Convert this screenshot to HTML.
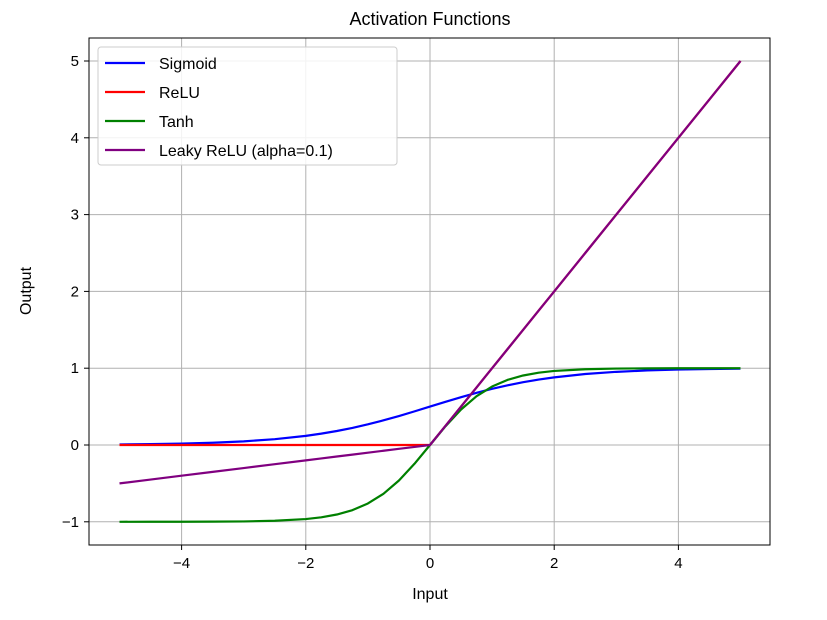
<!DOCTYPE html>
<html><head><meta charset="utf-8"><style>
html,body{margin:0;padding:0;background:#fff;}
svg{display:block;font-family:"Liberation Sans","DejaVu Sans",sans-serif;}
</style></head><body>
<svg id="chart" width="827" height="620">
<text x="430" y="25" font-size="18" text-anchor="middle" fill="#000">Activation Functions</text>
<g id="grid"></g>
<g id="series"></g>
<rect x="89" y="38" width="681" height="507" fill="none" stroke="#000" stroke-width="1"/>
<g id="ticks"></g>
<text x="430" y="599" font-size="16" text-anchor="middle">Input</text>
<text x="31" y="291" font-size="16" text-anchor="middle" transform="rotate(-90 31 291)">Output</text>
<g id="legend"></g>
</svg>
<script>
const xs=[-5,-4.5,-4,-3.5,-3,-2.5,-2,-1.75,-1.5,-1.25,-1,-0.75,-0.5,-0.25,0,0.25,0.5,0.75,1,1.25,1.5,1.75,2,2.5,3,3.5,4,4.5,5];
const sigmoidVals=[.0067,.0110,.0180,.0293,.0474,.0759,.1192,.1480,.1824,.2227,.2689,.3208,.3775,.4378,.5,.5622,.6225,.6792,.7311,.7773,.8176,.8520,.8808,.9241,.9526,.9707,.9820,.9890,.9933];
const reluVals=[0,0,0,0,0,0,0,0,0,0,0,0,0,0,0,.25,.5,.75,1,1.25,1.5,1.75,2,2.5,3,3.5,4,4.5,5];
const tanhVals=[-.9999,-.9998,-.9993,-.9982,-.9951,-.9866,-.9640,-.9414,-.9051,-.8483,-.7616,-.6351,-.4621,-.2449,0,.2449,.4621,.6351,.7616,.8483,.9051,.9414,.9640,.9866,.9951,.9982,.9993,.9998,.9999];
const leakyVals=[-.5,-.45,-.4,-.35,-.3,-.25,-.2,-.175,-.15,-.125,-.1,-.075,-.05,-.025,0,.25,.5,.75,1,1.25,1.5,1.75,2,2.5,3,3.5,4,4.5,5];
const xTicks=[-4,-2,0,2,4];
const yTicks=[-1,0,1,2,3,4,5];
const seriesNames=["Sigmoid","ReLU","Tanh","Leaky ReLU (alpha=0.1)"];
const seriesColors=["#0000ff","#ff0000","#008000","#800080"];
const seriesData=[sigmoidVals,reluVals,tanhVals,leakyVals];

const X=v=>430+v*62.1;
const Y=v=>445-v*76.8;
const NS="http://www.w3.org/2000/svg";
function mk(tag,attrs,parent){const e=document.createElementNS(NS,tag);for(const k in attrs)e.setAttribute(k,attrs[k]);parent.appendChild(e);return e;}
const grid=document.getElementById('grid'),ticks=document.getElementById('ticks'),ser=document.getElementById('series'),leg=document.getElementById('legend');
xTicks.forEach(t=>{
  const g=mk('line',{x1:X(t),x2:X(t),y1:38,y2:545,stroke:'#b0b0b0','stroke-width':1},grid);
  
  
  const tk=mk('line',{x1:X(t),x2:X(t),y1:545,y2:550,stroke:'#000'},ticks);
  
  
  const tx=mk('text',{x:X(t),y:568,'font-size':15,'text-anchor':'middle'},ticks);
  tx.textContent=(t<0?'\u2212'+(-t):t);
  
  
});
yTicks.forEach(t=>{
  const g=mk('line',{x1:89,x2:770,y1:Y(t),y2:Y(t),stroke:'#b0b0b0','stroke-width':1},grid);
  
  
  const tk=mk('line',{x1:84,x2:89,y1:Y(t),y2:Y(t),stroke:'#000'},ticks);
  
  
  const tx=mk('text',{x:79,y:Y(t)+5,'font-size':15,'text-anchor':'end'},ticks);
  tx.textContent=(t<0?'\u2212'+(-t):t);
  
  
});
seriesData.forEach((vals,i)=>{
  const pts=xs.map((x,j)=>X(x).toFixed(2)+','+Y(vals[j]).toFixed(2)).join(' ');
  const p=mk('polyline',{points:pts,fill:'none',stroke:seriesColors[i],'stroke-width':2.2,'stroke-linejoin':'round'},ser);
  
  
});
const box=mk('rect',{x:98,y:47,width:299,height:118,rx:3,fill:'#fff','fill-opacity':0.85,stroke:'#ccc'},leg);


seriesNames.forEach((n,i)=>{
  const y=63+i*29;
  const l=mk('line',{x1:105,x2:145,y1:y,y2:y,stroke:seriesColors[i],'stroke-width':2.2},leg);
  
  
  const t=mk('text',{x:159,y:y+6,'font-size':16},leg);
  t.textContent=n;
  
  
});
</script>
</body></html>
